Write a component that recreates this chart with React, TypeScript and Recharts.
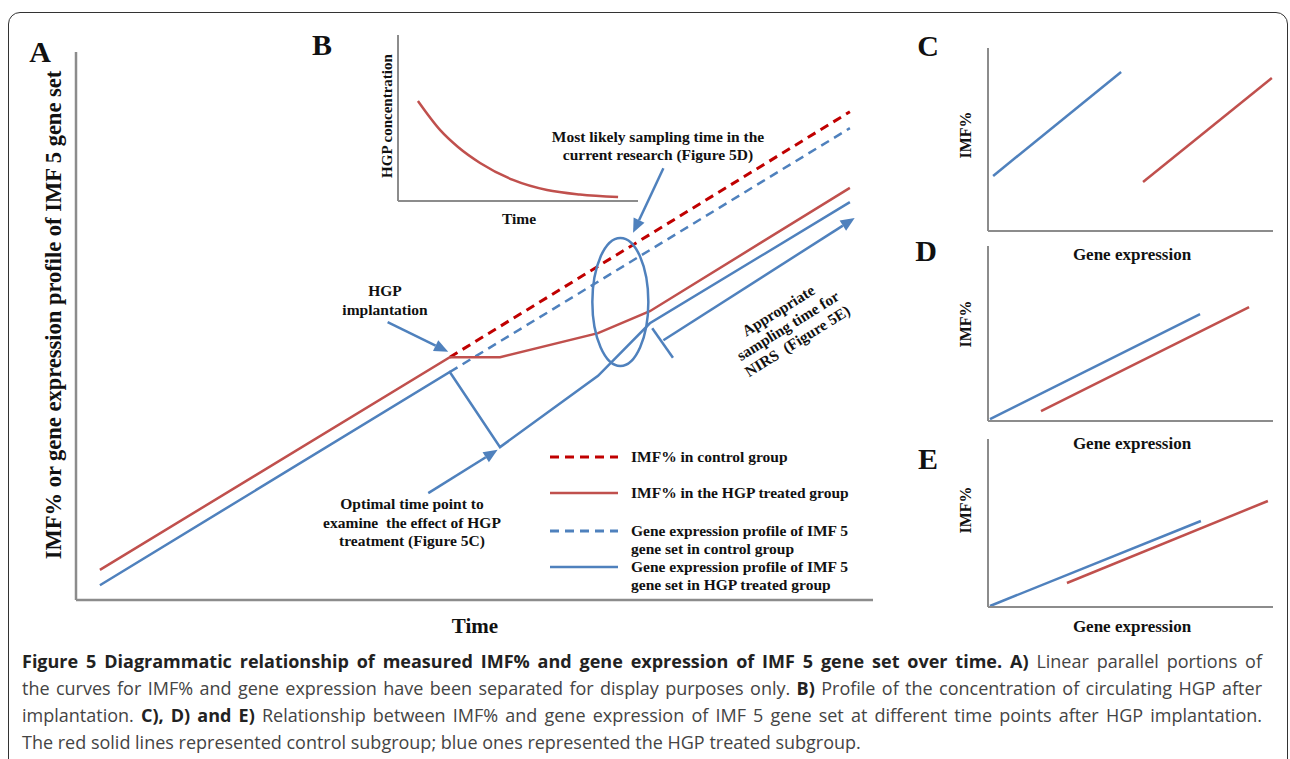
import React from 'react';
import { LineChart, Line, XAxis, YAxis, ReferenceLine, ReferenceDot } from 'recharts';

const RED = '#C0504D';
const RED_DARK = '#C00000';
const BLUE = '#4F81BD';
const AXIS = '#8c8c8c';
const SERIF = '"Liberation Serif", "Times New Roman", serif';
const SANS = '"Open Sans", "Noto Sans", sans-serif';

// panel A: time (0-100) vs IMF% / gene expression (0-100)
const imfControl = [{ t: 46.9, v: 44.3 }, { t: 97.1, v: 89.1 }];
const imfTreated = [
  { t: 3.0, v: 5.5 }, { t: 46.9, v: 44.3 }, { t: 53.2, v: 44.3 },
  { t: 65.5, v: 48.7 }, { t: 72.0, v: 52.7 }, { t: 97.1, v: 75.2 },
];
const geneControl = [{ t: 46.9, v: 41.6 }, { t: 97.1, v: 86.1 }];
const geneTreated = [
  { t: 3.0, v: 2.7 }, { t: 46.9, v: 41.6 }, { t: 53.2, v: 27.9 },
  { t: 65.5, v: 40.9 }, { t: 72.0, v: 50.5 }, { t: 97.1, v: 72.6 },
];

// annotation arrows in panel A (data coordinates)
const arrows = [
  { from: { x: 39.1, y: 50.7 }, to: { x: 46.7, y: 45.3 }, head: true },
  { from: { x: 73.7, y: 78.8 }, to: { x: 69.9, y: 67.0 }, head: true },
  { from: { x: 44.2, y: 19.5 }, to: { x: 52.9, y: 27.4 }, head: true },
  { from: { x: 73.7, y: 47.4 }, to: { x: 97.7, y: 69.7 }, head: true },
  { from: { x: 72.3, y: 49.6 }, to: { x: 74.9, y: 44.2 }, head: false },
];
const sampleWindow = { x: 68.3, y: 54.4 };

// panel B: HGP concentration over time
const hgpConc = [
  { t: 8.3, c: 60.2 }, { t: 17.5, c: 42.8 }, { t: 25.0, c: 32.5 }, { t: 34.2, c: 22.9 },
  { t: 47.9, c: 12.7 }, { t: 62.1, c: 6.6 }, { t: 75.8, c: 3.9 }, { t: 91.7, c: 2.4 },
];

// panels C, D, E: gene expression vs IMF%
const cBlue = [{ g: 1.8, i: 30.1 }, { g: 46.7, i: 86.9 }];
const cRed = [{ g: 54.4, i: 26.8 }, { g: 99.6, i: 83.6 }];
const dBlue = [{ g: 0.7, i: 1.1 }, { g: 74.4, i: 61.1 }];
const dRed = [{ g: 18.6, i: 5.7 }, { g: 91.6, i: 65.1 }];
const eBlue = [{ g: 0.7, i: 0.6 }, { g: 74.7, i: 51.2 }];
const eRed = [{ g: 27.7, i: 14.3 }, { g: 98.2, i: 63.1 }];

const legendItems = [
  { lines: ['IMF% in control group'], color: RED_DARK, dash: '9 6', y: 457 },
  { lines: ['IMF% in the HGP treated group'], color: RED, dash: undefined, y: 493 },
  { lines: ['Gene expression profile of IMF 5', 'gene set in control group'], color: BLUE, dash: '9 6', y: 531 },
  { lines: ['Gene expression profile of IMF 5', 'gene set in HGP treated group'], color: BLUE, dash: undefined, y: 567 },
];

const caption = [
  [
    { b: true, s: 'Figure 5 Diagrammatic relationship of measured IMF% and gene expression of IMF 5 gene set over time. A)' },
    { b: false, s: ' Linear parallel portions of' },
  ],
  [
    { b: false, s: 'the curves for IMF% and gene expression have been separated for display purposes only. ' },
    { b: true, s: 'B)' },
    { b: false, s: ' Profile of the concentration of circulating HGP after' },
  ],
  [
    { b: false, s: 'implantation. ' },
    { b: true, s: 'C), D) and E)' },
    { b: false, s: ' Relationship between IMF% and gene expression of IMF 5 gene set at different time points after HGP implantation.' },
  ],
  [{ b: false, s: 'The red solid lines represented control subgroup; blue ones represented the HGP treated subgroup.' }],
];

const arrowShape = (head: boolean) => (p: any) => {
  const { x1, y1, x2, y2 } = p;
  const ang = Math.atan2(y2 - y1, x2 - x1);
  const len = head ? 14 : 0;
  const ex = x2 - Math.cos(ang) * len;
  const ey = y2 - Math.sin(ang) * len;
  const w = 6;
  const pts = [
    [x2, y2],
    [ex + Math.sin(ang) * w, ey - Math.cos(ang) * w],
    [ex - Math.sin(ang) * w, ey + Math.cos(ang) * w],
  ].map((q) => q.join(',')).join(' ');
  return (
    <g>
      <line x1={x1} y1={y1} x2={ex} y2={ey} stroke={BLUE} strokeWidth={2.5} />
      {head && <polygon points={pts} fill={BLUE} />}
    </g>
  );
};

const Txt = ({ x, y, size = 15.5, rotate = 0, lh = 1.25, children }: any) => (
  <div
    style={{
      position: 'absolute', left: x, top: y,
      transform: `translate(-50%, -50%) rotate(${rotate}deg)`,
      font: `bold ${size}px ${SERIF}`, lineHeight: lh, whiteSpace: 'nowrap',
      textAlign: 'center', color: '#111',
    }}
  >
    {children}
  </div>
);

const axisLine = { stroke: AXIS, strokeWidth: 2 };

// axes take 2px each, so margins are 2px smaller than the plot offsets
const SmallPanel = ({ top, height, margin, blue, red }: any) => (
  <div style={{ position: 'absolute', left: 940, top }}>
    <LineChart width={350} height={height} margin={margin}>
      <XAxis type="number" dataKey="g" domain={[0, 100]} height={2} tick={false} tickLine={false} axisLine={axisLine} />
      <YAxis type="number" dataKey="i" domain={[0, 100]} width={2} tick={false} tickLine={false} axisLine={axisLine} />
      <Line data={blue} dataKey="i" stroke={BLUE} strokeWidth={2.5} dot={false} activeDot={false} isAnimationActive={false} />
      <Line data={red} dataKey="i" stroke={RED} strokeWidth={2.5} dot={false} activeDot={false} isAnimationActive={false} />
    </LineChart>
  </div>
);

export default function App() {
  return (
    <div style={{ position: 'absolute', left: 0, top: 0, width: 1290, height: 759, overflow: 'hidden', background: '#fff' }}>
      <div
        style={{
          position: 'absolute', left: 8, top: 12, width: 1280, height: 800,
          border: '1.5px solid #333', borderRadius: 12, boxSizing: 'border-box',
        }}
      />

      {/* panel A */}
      <div style={{ position: 'absolute', left: 0, top: 0 }}>
        <LineChart width={900} height={620} margin={{ top: 52, right: 27, bottom: 18, left: 74 }}>
          <XAxis type="number" dataKey="t" domain={[0, 100]} height={2} tick={false} tickLine={false} axisLine={{ stroke: AXIS, strokeWidth: 2.5 }} />
          <YAxis type="number" domain={[0, 100]} width={2} tick={false} tickLine={false} axisLine={{ stroke: AXIS, strokeWidth: 2.5 }} />
          <Line data={imfControl} dataKey="v" stroke={RED_DARK} strokeWidth={3} strokeDasharray="9 6" dot={false} activeDot={false} isAnimationActive={false} />
          <Line data={geneControl} dataKey="v" stroke={BLUE} strokeWidth={2.5} strokeDasharray="9 6" dot={false} activeDot={false} isAnimationActive={false} />
          <Line data={imfTreated} dataKey="v" stroke={RED} strokeWidth={2.5} dot={false} activeDot={false} isAnimationActive={false} />
          <Line data={geneTreated} dataKey="v" stroke={BLUE} strokeWidth={2.5} dot={false} activeDot={false} isAnimationActive={false} />
          {arrows.map((a, k) => (
            <ReferenceLine key={k} segment={[a.from, a.to]} shape={arrowShape(a.head)} ifOverflow="visible" />
          ))}
          <ReferenceDot
            x={sampleWindow.x}
            y={sampleWindow.y}
            ifOverflow="visible"
            shape={(p: any) => <ellipse cx={p.cx} cy={p.cy} rx={28} ry={64} fill="none" stroke={BLUE} strokeWidth={2.5} />}
          />
        </LineChart>
      </div>

      {/* panel B */}
      <div style={{ position: 'absolute', left: 340, top: 20 }}>
        <LineChart width={320} height={200} margin={{ top: 15, right: 22, bottom: 17, left: 56 }}>
          <XAxis type="number" dataKey="t" domain={[0, 100]} height={2} tick={false} tickLine={false} axisLine={axisLine} />
          <YAxis type="number" domain={[0, 100]} width={2} tick={false} tickLine={false} axisLine={axisLine} />
          <Line data={hgpConc} dataKey="c" type="monotone" stroke={RED} strokeWidth={2.5} dot={false} activeDot={false} isAnimationActive={false} />
        </LineChart>
      </div>

      <SmallPanel top={30} height={220} margin={{ top: 18, right: 17, bottom: 17, left: 46 }} blue={cBlue} red={cRed} />
      <SmallPanel top={230} height={210} margin={{ top: 16, right: 17, bottom: 17, left: 46 }} blue={dBlue} red={dRed} />
      <SmallPanel top={425} height={200} margin={{ top: 14, right: 17, bottom: 16, left: 46 }} blue={eBlue} red={eRed} />

      {/* panel letters */}
      <Txt x={40} y={52} size={30}>A</Txt>
      <Txt x={322} y={45} size={30}>B</Txt>
      <Txt x={928} y={46} size={30}>C</Txt>
      <Txt x={926} y={251} size={30}>D</Txt>
      <Txt x={928} y={459} size={30}>E</Txt>

      {/* axis titles */}
      <Txt x={54} y={315} size={22.5} rotate={-90}>IMF% or gene expression profile of IMF 5 gene set</Txt>
      <Txt x={475} y={626} size={21}>Time</Txt>
      <Txt x={387} y={116} size={15} rotate={-90}>HGP concentration</Txt>
      <Txt x={519} y={219} size={15.5}>Time</Txt>
      {[135, 324, 510].map((y) => (
        <Txt key={y} x={966} y={y} size={16} rotate={-90}>IMF%</Txt>
      ))}
      {[255, 444, 627].map((y) => (
        <Txt key={y} x={1132} y={y} size={17}>Gene expression</Txt>
      ))}

      {/* annotations */}
      <Txt x={385} y={300} size={15.5} lh="19px">HGP<br />implantation</Txt>
      <Txt x={658} y={146} size={15.5} lh="18px">Most likely sampling time in the<br />current research (Figure 5D)</Txt>
      <Txt x={412} y={523} size={15.5} lh="18.5px">Optimal time point to<br />examine&nbsp; the effect of HGP<br />treatment (Figure 5C)</Txt>
      <Txt x={788} y={326} size={15.5} lh="18px" rotate={-32}>Appropriate<br />sampling time for<br />NIRS&nbsp; (Figure 5E)</Txt>

      {/* legend */}
      {legendItems.map((it) => (
        <React.Fragment key={it.lines.join()}>
          <svg style={{ position: 'absolute', left: 550, top: it.y - 3 }} width={70} height={6}>
            <line x1={0} y1={3} x2={68} y2={3} stroke={it.color} strokeWidth={it.dash ? 3 : 2.5} strokeDasharray={it.dash} />
          </svg>
          <div
            style={{
              position: 'absolute', left: 631, top: it.y - 9.5,
              font: `bold 15.5px ${SERIF}`, lineHeight: '18px', whiteSpace: 'nowrap', color: '#111',
            }}
          >
            {it.lines.map((l) => <div key={l}>{l}</div>)}
          </div>
        </React.Fragment>
      ))}

      {/* caption */}
      <div style={{ position: 'absolute', left: 22, top: 648, width: 1240, font: `18px ${SANS}`, lineHeight: '27px', color: '#444' }}>
        {caption.map((line, k) => (
          <div
            key={k}
            style={{ whiteSpace: 'nowrap', textAlign: 'justify', textAlignLast: k < 3 ? 'justify' : 'left' } as any}
          >
            {line.map((seg, j) => (
              <span key={j} style={seg.b ? { fontWeight: 700, color: '#222' } : undefined}>{seg.s}</span>
            ))}
          </div>
        ))}
      </div>
    </div>
  );
}
